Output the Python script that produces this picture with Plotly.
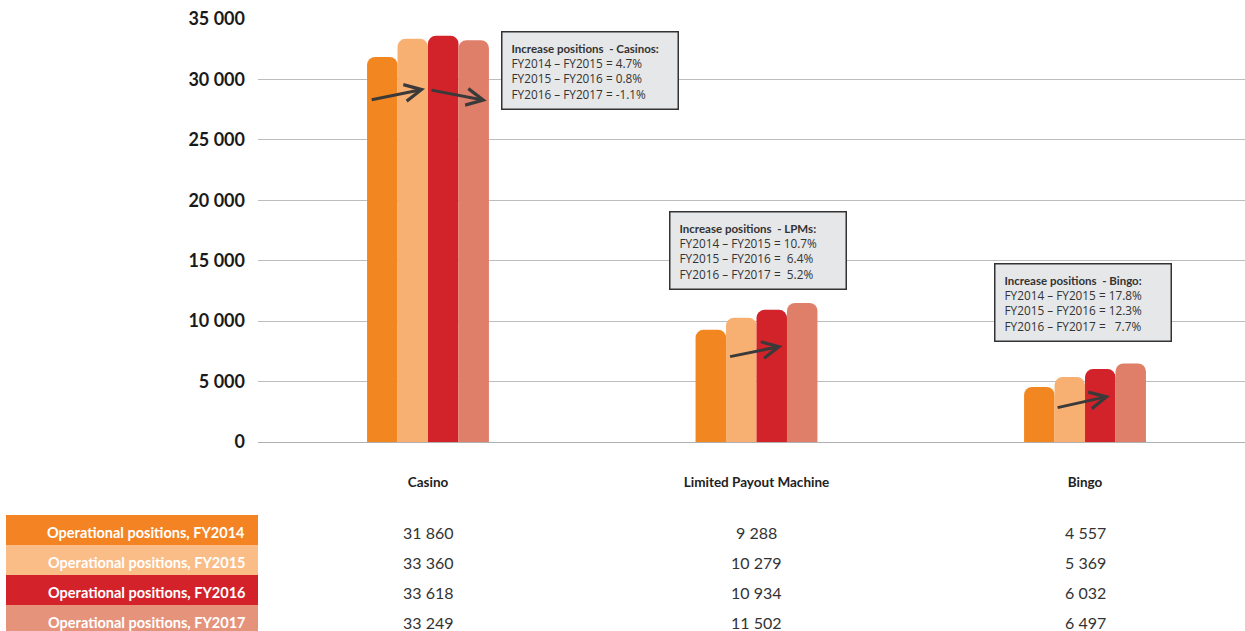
import plotly.graph_objects as go

# Operational gaming positions by sector and financial year
categories = ["Casino", "Limited Payout Machine", "Bingo"]
series_names = [
    "Operational positions, FY2014",
    "Operational positions, FY2015",
    "Operational positions, FY2016",
    "Operational positions, FY2017",
]
fy2014 = [31860, 9288, 4557]
fy2015 = [33360, 10279, 5369]
fy2016 = [33618, 10934, 6032]
fy2017 = [33249, 11502, 6497]
series_values = [fy2014, fy2015, fy2016, fy2017]

bar_colors = ["#F28621", "#F8B072", "#D2232A", "#E07F69"]
cell_colors = ["#F48423", "#FBBD87", "#D3222A", "#E6937C"]

y_ticks = [0, 5000, 10000, 15000, 20000, 25000, 30000, 35000]

# Growth call-out boxes: (title, lines)
callouts = [
    ("Increase positions  - Casinos:",
     ["FY2014 – FY2015 = 4.7%", "FY2015 – FY2016 = 0.8%", "FY2016 – FY2017 = -1.1%"]),
    ("Increase positions  - LPMs:",
     ["FY2014 – FY2015 = 10.7%", "FY2015 – FY2016 =  6.4%", "FY2016 – FY2017 =  5.2%"]),
    ("Increase positions  - Bingo:",
     ["FY2014 – FY2015 = 17.8%", "FY2015 – FY2016 = 12.3%", "FY2016 – FY2017 =   7.7%"]),
]

W, H = 1245, 631
PL, PR, PT, PB = 258, 0, 19, 189
plot_w = W - PL - PR
plot_h = H - PT - PB


def px_x(x):
    return (x - PL) / plot_w


def px_y(y):
    return (H - PB - y) / plot_h


def fmt(v):
    return f"{v:,}".replace(",", " ")


def keep_spaces(s):
    return s.replace("  ", "&nbsp; ")


fig = go.Figure()
for name, vals, col in zip(series_names, series_values, bar_colors):
    fig.add_trace(go.Bar(
        x=categories, y=vals, name=name,
        marker=dict(color=col, line=dict(width=0), cornerradius=8),
        hoverinfo="x+y",
    ))

annotations = []
shapes = []

# Call-out boxes
box_pos = [(501, 31), (669, 211), (994, 263)]
for (title, lines), (bx, by) in zip(callouts, box_pos):
    text = (f"<span style='font-family:Lato;font-size:11.5px'><b>{keep_spaces(title)}</b></span><br>"
            + "<br>".join(keep_spaces(l) for l in lines))
    annotations.append(dict(
        xref="paper", yref="paper", x=px_x(bx), y=px_y(by),
        xanchor="left", yanchor="top", align="left", valign="top",
        text=text, showarrow=False,
        font=dict(family="Open Sans", size=11.8, color="#333333"),
        bgcolor="#E6E7E8", bordercolor="#333333", borderwidth=1.5,
        borderpad=9, width=157, height=58,
    ))

# Trend arrows drawn over the bars (category offset, value)
arrows = [
    ((0, -0.176, 28300), (0, -0.009, 29220)),
    ((0, 0.006, 29140), (0, 0.179, 28230)),
    ((1, -0.085, 7040), (1, 0.079, 7950)),
    ((2, -0.088, 2815), (2, 0.076, 3810)),
]
for (ci, dx0, y0), (cj, dx1, y1) in arrows:
    annotations.append(dict(
        xref="x", yref="y", axref="x", ayref="y",
        x=ci + dx1, y=y1, ax=ci + dx0, ay=y0,
        text="", showarrow=True, arrowhead=5, arrowsize=1.1,
        arrowwidth=3, arrowcolor="#3A3A3A", standoff=0, startstandoff=0,
    ))

# Data table beneath the chart
row_h = 30
row_top = 515
for i, (name, vals, col) in enumerate(zip(series_names, series_values, cell_colors)):
    top = row_top + i * row_h
    shapes.append(dict(
        type="rect", xref="paper", yref="paper",
        x0=px_x(6), x1=px_x(258), y0=px_y(top + row_h), y1=px_y(top),
        fillcolor=col, line=dict(width=0), layer="below",
    ))
    yc = px_y(top + 17)
    annotations.append(dict(
        xref="paper", yref="paper", x=px_x(247), y=yc,
        xanchor="right", yanchor="middle", showarrow=False,
        text=f"<b>{name}</b>",
        font=dict(family="Lato", size=14.5, color="#FFFFFF"),
    ))
    for cat, v in zip(categories, vals):
        annotations.append(dict(
            xref="x", yref="paper", x=cat, y=yc,
            xanchor="center", yanchor="middle", showarrow=False,
            text=fmt(v),
            font=dict(family="Lato", size=16, color="#333333"),
        ))

fig.update_layout(
    width=W, height=H,
    margin=dict(l=PL, r=PR, t=PT, b=PB, pad=0),
    paper_bgcolor="white", plot_bgcolor="white",
    barmode="group", bargap=0.629, bargroupgap=0,
    showlegend=False,
    separators=". ",
    annotations=annotations, shapes=shapes,
    xaxis=dict(
        type="category", range=[-0.5175, 2.487],
        showgrid=False, showline=False, zeroline=False,
        ticks="", ticklabelstandoff=30,
        tickfont=dict(family="Lato", size=13.5, color="#222222"),
        tickvals=categories, ticktext=[f"<b>{c}</b>" for c in categories],
    ),
    yaxis=dict(
        range=[0, 35000], tickvals=y_ticks,
        ticktext=[f"<b>{fmt(t)}</b>" for t in y_ticks],
        showgrid=True, gridcolor="#BDBDBD", gridwidth=1.2,
        zeroline=True, zerolinecolor="#B0B0B0", zerolinewidth=1.2,
        showline=False, ticks="", ticklabelstandoff=12,
        tickfont=dict(family="Lato", size=18, color="#1A1A1A"),
    ),
)

fig.write_html("out.html")
